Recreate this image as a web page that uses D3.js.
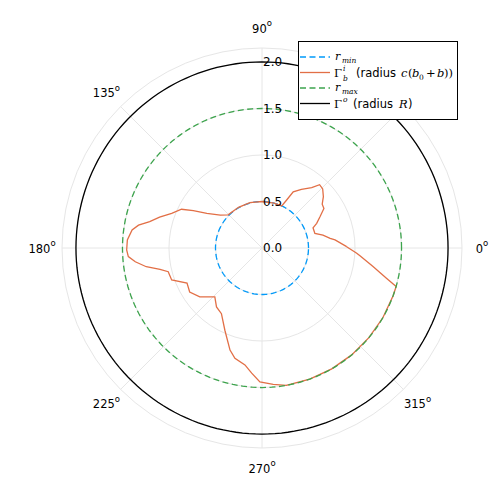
<!DOCTYPE html>
<html><head><meta charset="utf-8">
<script src="https://cdn.jsdelivr.net/npm/d3@7"></script>
<style>body{margin:0;background:#fff}svg{display:block}</style>
</head><body>
<script>
// ---- data ----
const angleTicks = [0, 45, 90, 135, 180, 225, 270, 315];
const angleLabels = [0, 90, 135, 180, 225, 270, 315]; // 45 is hidden by the legend in the reference
const radiusTicks = [0.0, 0.5, 1.0, 1.5, 2.0];
const rMin = 0.5, rMax = 1.5, R = 2.0;
const bTheta = [0.9, 6.3, 8.1, 12, 15.5, 21.6, 24.3, 28.4, 32.6, 36, 39.9, 44.2, 47.7, 50.5, 56.1, 60.9, 62.8, 64.9, 75, 90, 105, 120, 135.6, 141.8, 147.9, 151.5, 154.3, 159, 163.2, 166.8, 169.5, 172.1, 176.6, 180.8, 183.7, 186.2, 189.2, 191.8, 194.2, 199.5, 205.1, 211.3, 218.1, 226, 232.3, 238.3, 245.7, 252.6, 256.2, 261.7, 265.3, 269.1, 274.7, 280, 290, 300, 310, 320, 330, 340, 344, 346.3, 350.5, 355.3, 356.8, 360.9];
const bR = [0.91, 0.79, 0.74, 0.67, 0.59, 0.59, 0.645, 0.71, 0.79, 0.80, 0.86, 0.91, 0.92, 0.84, 0.76, 0.69, 0.58, 0.50, 0.50, 0.50, 0.505, 0.505, 0.51, 0.57, 0.70, 0.84, 0.96, 1.04, 1.15, 1.24, 1.35, 1.41, 1.45, 1.455, 1.44, 1.37, 1.26, 1.12, 1.04, 1.03, 0.89, 0.91, 0.85, 0.73, 0.80, 0.83, 0.97, 1.15, 1.22, 1.27, 1.35, 1.44, 1.47, 1.5, 1.5, 1.5, 1.5, 1.5, 1.5, 1.5, 1.5, 1.38, 1.21, 1.06, 1.02, 0.91];

const W = 498, H = 498, cx = 262, cy = 248;
const svg = d3.select("body").append("svg").attr("width", W).attr("height", H);
const g = svg.append("g").attr("transform", `translate(${cx},${cy})`);
const r = d3.scaleLinear().domain([0, 2.15]).range([0, 200]);
const toRad = d => (90 - d) * Math.PI / 180;
const gridC = "#e6e6e6";

// grid
angleTicks.forEach(a => {
  const t = a * Math.PI / 180;
  g.append("line").attr("x1", 0).attr("y1", 0)
    .attr("x2", r(2.15) * Math.cos(t)).attr("y2", -r(2.15) * Math.sin(t))
    .attr("stroke", gridC).attr("stroke-width", 1);
});
radiusTicks.filter(v => v > 0).concat([2.15]).forEach(v => {
  g.append("circle").attr("r", r(v)).attr("fill", "none").attr("stroke", gridC).attr("stroke-width", 1);
});

const circ = () => d3.range(0, 361, 2);
const radialLine = d3.lineRadial().angle(d => toRad(d[0])).radius(d => r(d[1]));
function ring(val, color, dash) {
  g.append("path").datum(circ().map(a => [a, val])).attr("d", radialLine)
    .attr("fill", "none").attr("stroke", color).attr("stroke-width", 1.3)
    .attr("stroke-dasharray", dash || null);
}
ring(rMin, "#009AFA", "6,3.5");
g.append("path").datum(bTheta.map((t, i) => [t, bR[i]])).attr("d", radialLine)
  .attr("fill", "none").attr("stroke", "#E26F46").attr("stroke-width", 1.3);
ring(rMax, "#3DA44D", "6,3.5");
ring(R, "#000000", null);

// radius labels
radiusTicks.forEach(v => {
  g.append("text").attr("x", 1).attr("y", -r(v)).attr("dy", "0.36em")
    .attr("font-family", "DejaVu Sans").attr("font-size", 12).text(v.toFixed(1));
});
// angle labels
angleLabels.forEach(a => {
  const t = a * Math.PI / 180, rr = 220;
  const tx = g.append("text").attr("x", rr * Math.cos(t)).attr("y", -rr * Math.sin(t))
    .attr("dy", "0.4em").attr("text-anchor", "middle")
    .attr("font-family", "DejaVu Sans").attr("font-size", 11.5);
  tx.append("tspan").text(a);
  tx.append("tspan").attr("font-size", 8.5).attr("dy", "-0.75em").text("o");
});

// legend
const lg = svg.append("g");
lg.append("rect").attr("x", 298.5).attr("y", 41.5).attr("width", 159).attr("height", 78)
  .attr("fill", "#fff").attr("stroke", "#000").attr("stroke-width", 1);
const rows = [
  {c: "#009AFA", d: "6,3.5", y: 57},
  {c: "#E26F46", d: null, y: 72.5},
  {c: "#3DA44D", d: "6,3.5", y: 88},
  {c: "#000000", d: null, y: 103.5}
];
rows.forEach(o => {
  lg.append("line").attr("x1", 300).attr("x2", 330).attr("y1", o.y).attr("y2", o.y)
    .attr("stroke", o.c).attr("stroke-width", 1.3).attr("stroke-dasharray", o.d);
});
const serif = "DejaVu Serif", sans = "DejaVu Sans";
function txt(x, y, s, opt) {
  opt = opt || {};
  return lg.append("text").attr("x", x).attr("y", y)
    .attr("font-family", opt.f || serif).attr("font-style", opt.i ? "italic" : "normal")
    .attr("font-size", opt.s || 11).text(s);
}
// r_min
txt(335, 60, "r", {i: true});
txt(342, 63, "min", {i: true, s: 7.5});
// Gamma_b^i (radius c(b0+b))
txt(334, 77, "Γ", {s: 11.5});
txt(343, 71, "i", {i: true, s: 7.5});
txt(343, 81, "b", {i: true, s: 7.5});
txt(356, 77, "(radius", {f: sans, s: 11.5});
txt(401, 77, "c", {i: true, s: 11.5});
txt(408, 77, "(", {s: 11.5});
txt(412, 77, "b", {i: true, s: 11.5});
txt(419, 80, "0", {s: 7.5});
txt(426, 77, "+", {s: 11.5});
txt(437, 77, "b", {i: true, s: 11.5});
txt(444, 77, "))", {s: 11.5});
// r_max
txt(335, 91, "r", {i: true});
txt(342, 94, "max", {i: true, s: 7.5});
// Gamma^o (radius R)
txt(334, 108, "Γ", {s: 11.5});
txt(343, 102, "o", {i: true, s: 7.5});
txt(353, 108, "(radius", {f: sans, s: 11.5});
txt(399, 108, "R", {i: true, s: 11.5});
txt(408, 108, ")", {f: sans, s: 11.5});
</script>
</body></html>
